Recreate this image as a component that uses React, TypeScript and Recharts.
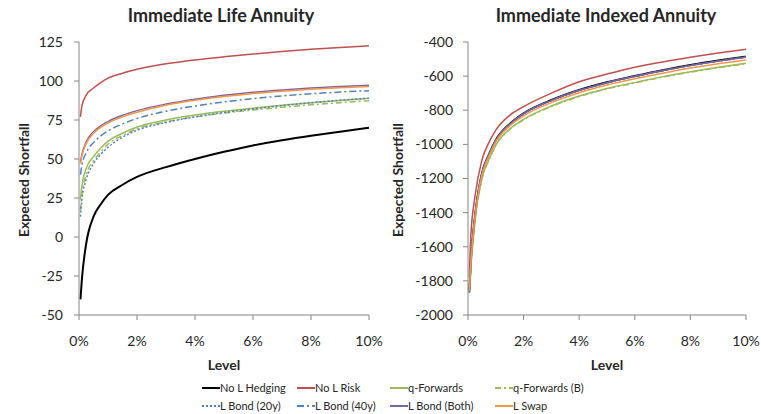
import React from 'react';
import { LineChart, Line, XAxis, YAxis } from 'recharts';

const levels = [0.0005, 0.001, 0.0025, 0.005, 0.0075, 0.01, 0.015, 0.02, 0.03, 0.04, 0.05, 0.06, 0.07, 0.08, 0.09, 0.1];

// Immediate Life Annuity
const lifeNoLHedging = [-40, -27, -4, 13, 21, 27, 33.5, 38.5, 44.8, 50, 54.6, 58.7, 62, 64.9, 67.5, 70];
const lifeNoLRisk = [77, 84, 91, 95.5, 99, 101.8, 105, 107.5, 111, 113.5, 115.5, 117.3, 118.9, 120.3, 121.5, 122.6];
const lifeQForwards = [24, 33, 44, 51.5, 57, 61.5, 66.5, 70.5, 75, 78.2, 80.6, 82.6, 84.4, 86, 87.5, 88.9];
const lifeQForwardsB = [17, 27, 40, 49, 54.5, 59.5, 65, 69.3, 73.8, 77, 79.4, 81.4, 83.1, 84.7, 86.1, 87.4];
const lifeLBond20 = [13, 24, 37, 47, 53, 57.5, 64, 68.4, 73.4, 77, 79.8, 82.1, 84.2, 86.1, 87.7, 89];
const lifeLBond40 = [40, 46, 54, 60.5, 64.8, 68, 72.5, 76, 80.6, 84, 86.6, 88.7, 90.4, 91.8, 92.9, 93.8];
const lifeLBondBoth = [48, 53, 61, 67.5, 71.3, 74, 78, 81, 85.2, 88.3, 90.8, 92.8, 94.3, 95.5, 96.5, 97.3];
const lifeLSwap = [47, 52, 60, 66.5, 70.3, 73, 77, 80, 84.5, 87.6, 90, 92, 93.5, 94.7, 95.7, 96.5];

// Immediate Indexed Annuity
const idxNoLHedging = [-1854, -1696, -1424, -1170, -1060, -974, -880, -818, -740, -681, -636, -599, -565, -535, -509, -486];
const idxNoLRisk = [-1776, -1541, -1307, -1092, -990, -916, -830, -779, -700, -633, -588, -548, -517, -490, -465, -443];
const idxQForwards = [-1860, -1720, -1450, -1200, -1090, -1004, -910, -853, -775, -717, -672, -638, -603, -574, -548, -525];
const idxQForwardsB = [-1865, -1724, -1455, -1204, -1094, -1007, -913, -856, -778, -720, -675, -640, -606, -577, -551, -528];
const idxLBond20 = [-1870, -1700, -1428, -1174, -1064, -978, -884, -822, -744, -685, -640, -603, -569, -539, -513, -490];
const idxLBond40 = [-1868, -1699, -1427, -1173, -1063, -977, -883, -821, -743, -684, -639, -602, -568, -538, -512, -489];
const idxLBondBoth = [-1862, -1698, -1426, -1172, -1062, -976, -882, -820, -742, -683, -638, -601, -567, -537, -511, -488];
const idxLSwap = [-1858, -1705, -1435, -1180, -1070, -986, -892, -833, -755, -697, -652, -616, -583, -553, -527, -505];

const xTicks = [0, 0.02, 0.04, 0.06, 0.08, 0.1];
const lifeTicks = [-50, -25, 0, 25, 50, 75, 100, 125];
const idxTicks = [-2000, -1800, -1600, -1400, -1200, -1000, -800, -600, -400];

const seriesMeta = [
  { key: 'noLHedging', name: 'No L Hedging', color: '#000000', dash: undefined, width: 2 },
  { key: 'noLRisk', name: 'No L Risk', color: '#c0504d', dash: undefined, width: 1.5 },
  { key: 'qForwards', name: 'q-Forwards', color: '#9bbb59', dash: undefined, width: 1.5 },
  { key: 'qForwardsB', name: 'q-Forwards (B)', color: '#9bbb59', dash: '6 3 2 3', width: 1.5 },
  { key: 'lBond20', name: 'L Bond (20y)', color: '#4f81bd', dash: '2 2', width: 1.5 },
  { key: 'lBond40', name: 'L Bond (40y)', color: '#4f81bd', dash: '7 3 2 3', width: 1.5 },
  { key: 'lBondBoth', name: 'L Bond (Both)', color: '#8064a2', dash: undefined, width: 1.5 },
  { key: 'lSwap', name: 'L Swap', color: '#f79646', dash: undefined, width: 1.5 },
];

const legendLeft = [202, 297, 390, 495];
const legendTop = [380, 398];

const lifeData = levels.map((x, i) => ({
  x,
  noLHedging: lifeNoLHedging[i],
  noLRisk: lifeNoLRisk[i],
  qForwards: lifeQForwards[i],
  qForwardsB: lifeQForwardsB[i],
  lBond20: lifeLBond20[i],
  lBond40: lifeLBond40[i],
  lBondBoth: lifeLBondBoth[i],
  lSwap: lifeLSwap[i],
}));

const idxData = levels.map((x, i) => ({
  x,
  noLHedging: idxNoLHedging[i],
  noLRisk: idxNoLRisk[i],
  qForwards: idxQForwards[i],
  qForwardsB: idxQForwardsB[i],
  lBond20: idxLBond20[i],
  lBond40: idxLBond40[i],
  lBondBoth: idxLBondBoth[i],
  lSwap: idxLSwap[i],
}));

const FONT = 'Lato, "Open Sans", sans-serif';
const axisColor = '#868686';
const tickStyle = { fontSize: 14, fill: '#262626', fontFamily: FONT };
const pct = (v: number) => `${Math.round(v * 100)}%`;

function Panel({ data, ticks, domain, yWidth, width, marginRight, yMargin }: any) {
  return (
    <LineChart
      width={width}
      height={355}
      data={data}
      margin={{ top: 42, right: marginRight, bottom: 0, left: 0 }}
      style={{ overflow: 'visible' }}
    >
      <XAxis
        dataKey="x"
        type="number"
        domain={[0, 0.1]}
        ticks={xTicks}
        tickFormatter={pct}
        height={40}
        stroke={axisColor}
        tickSize={5}
        tickMargin={16}
        tick={tickStyle}
        interval={0}
      />
      <YAxis
        type="number"
        domain={domain}
        ticks={ticks}
        width={yWidth}
        stroke={axisColor}
        tickSize={5}
        tickMargin={yMargin}
        tick={tickStyle}
        interval={0}
      />
      {seriesMeta.map((s) => (
        <Line
          key={s.key}
          dataKey={s.key}
          name={s.name}
          type="monotone"
          stroke={s.color}
          strokeWidth={s.width}
          strokeDasharray={s.dash}
          dot={false}
          activeDot={false}
          isAnimationActive={false}
        />
      ))}
    </LineChart>
  );
}

const abs = (extra: React.CSSProperties): React.CSSProperties => ({ position: 'absolute', fontFamily: FONT, color: '#262626', whiteSpace: 'nowrap', ...extra });

export default function App() {
  return (
    <div style={{ position: 'absolute', left: 0, top: 0, width: 761, height: 414, background: '#fff', overflow: 'hidden' }}>
      <div style={{ position: 'absolute', left: 0, top: 0 }}>
        <Panel data={lifeData} ticks={lifeTicks} domain={[-50, 125]} yWidth={79} width={390} marginRight={21} yMargin={11} />
      </div>
      <div style={{ position: 'absolute', left: 380, top: 0 }}>
        <Panel data={idxData} ticks={idxTicks} domain={[-2000, -400]} yWidth={88} width={381} marginRight={15} yMargin={10} />
      </div>
      <div style={abs({ left: 221 - 130, top: 4, width: 260, textAlign: 'center', fontSize: 18, fontWeight: 700 })}>Immediate Life Annuity</div>
      <div style={abs({ left: 606 - 130, top: 4, width: 260, textAlign: 'center', fontSize: 18, fontWeight: 700 })}>Immediate Indexed Annuity</div>
      <div style={abs({ left: 24 - 80, top: 180 - 9, width: 160, textAlign: 'center', fontSize: 14, fontWeight: 700, lineHeight: '18px', transform: 'rotate(-90deg)' })}>Expected Shortfall</div>
      <div style={abs({ left: 398 - 80, top: 180 - 9, width: 160, textAlign: 'center', fontSize: 14, fontWeight: 700, lineHeight: '18px', transform: 'rotate(-90deg)' })}>Expected Shortfall</div>
      <div style={abs({ left: 224 - 50, top: 356, width: 100, textAlign: 'center', fontSize: 14, fontWeight: 700, lineHeight: '18px' })}>Level</div>
      <div style={abs({ left: 607 - 50, top: 356, width: 100, textAlign: 'center', fontSize: 14, fontWeight: 700, lineHeight: '18px' })}>Level</div>
      {seriesMeta.map((s, i) => (
        <div key={s.key} style={abs({ left: legendLeft[i % 4], top: legendTop[Math.floor(i / 4)], height: 16, display: 'flex', alignItems: 'center' })}>
          <svg width={18} height={6}>
            <line x1={0} y1={3} x2={18} y2={3} stroke={s.color} strokeWidth={2} strokeDasharray={s.dash} />
          </svg>
          <span style={{ fontSize: 11, lineHeight: '16px' }}>{s.name}</span>
        </div>
      ))}
    </div>
  );
}
